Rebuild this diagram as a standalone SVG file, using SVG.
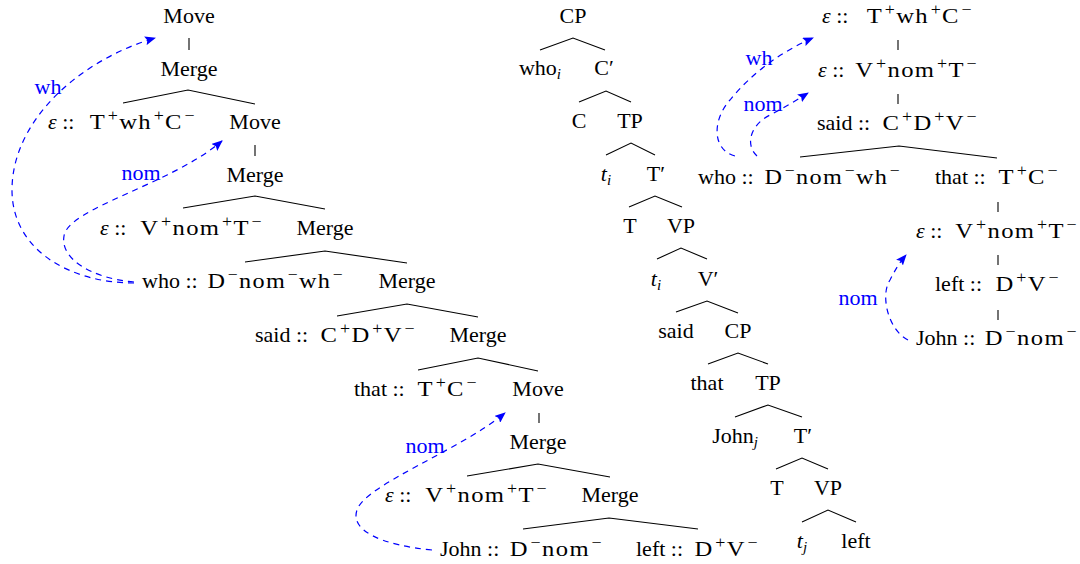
<svg xmlns="http://www.w3.org/2000/svg" width="1080" height="564" viewBox="0 0 1080 564">
<defs>
<style>
text{font-family:"Liberation Serif","DejaVu Serif",serif;font-size:22px;fill:#000;text-anchor:middle}
text.p{text-anchor:start}
text.f{text-anchor:end;letter-spacing:1.2px}
.s{font-size:16px}
.sub{font-size:15px;font-style:italic}
.i{font-style:italic}
.lbl{fill:#0000ff}
.e{stroke:#000;stroke-width:1.1;fill:none}
.mv{stroke:#0000ff;stroke-width:1.2;fill:none;stroke-dasharray:6 5;marker-end:url(#ah)}
</style>
<marker id="ah" markerUnits="userSpaceOnUse" markerWidth="11" markerHeight="9" refX="10" refY="4.5" orient="auto">
<path d="M0,0 L11,4.5 L0,9 L2,4.5 z" fill="#0000ff"/>
</marker>
</defs>
<rect width="1080" height="564" fill="#fff"/>

<g id="connectors">
<path class="e" d="M189,38 V50"/>
<path class="e" d="M123,103 L188,90 L255,104"/>
<path class="e" d="M255,145 V156"/>
<path class="e" d="M183,208 L255,196 L325,209"/>
<path class="e" d="M245,262 L325,251 L407,263"/>
<path class="e" d="M337,316 L407,304 L478,317"/>
<path class="e" d="M418,370 L478,358 L538,371"/>
<path class="e" d="M539,413 V423"/>
<path class="e" d="M467,476 L538,464 L610,477"/>
<path class="e" d="M523,529 L609,518 L698,529"/>
<path class="e" d="M540,50 L573,38 L605,50"/>
<path class="e" d="M579,102 L606,91 L631,102"/>
<path class="e" d="M606,155 L631,143 L655,155"/>
<path class="e" d="M629,207 L655,196 L682,207"/>
<path class="e" d="M657,259 L681,248 L707,259"/>
<path class="e" d="M676,312 L707,301 L738,313"/>
<path class="e" d="M708,364 L738,353 L768,364"/>
<path class="e" d="M735,417 L768,405 L802,417"/>
<path class="e" d="M776,469 L802,458 L828,469"/>
<path class="e" d="M802,522 L828,510 L856,522"/>
<path class="e" d="M898,40 V50"/>
<path class="e" d="M898,94 V104"/>
<path class="e" d="M800,157 L899,146 L997,158"/>
<path class="e" d="M998,202 V212"/>
<path class="e" d="M998,255 V265"/>
<path class="e" d="M998,310 V320"/>
<path class="mv" d="M134,283 C70,283 12,250 12,190 C12,120 80,60 155,38"/>
<path class="mv" d="M134,282 C90,278 60,258 64,236 C68,208 170,185 222,141"/>
<path class="mv" d="M432,550 C380,545 350,530 357,510 C365,485 460,450 505,413"/>
<path class="mv" d="M735,156 C712,150 712,120 730,100 C750,75 780,52 813,38"/>
<path class="mv" d="M757,156 C745,145 750,125 770,115 C785,107 797,100 808,93"/>
<path class="mv" d="M908,340 C888,330 880,295 890,280 C895,270 900,262 906,255"/>
<text class="lbl" x="48" y="94">wh</text>
<text class="lbl" x="141" y="180">nom</text>
<text class="lbl" x="425" y="453">nom</text>
<text class="lbl" x="759" y="65">wh</text>
<text class="lbl" x="763" y="111">nom</text>
<text class="lbl" x="858" y="305">nom</text>
</g>

<g id="L1"><text x="189" y="23">Move</text></g>
<g id="L2"><text x="189" y="76">Merge</text></g>
<g id="L3"><text class="p" x="48" y="129"><tspan class="i">ε</tspan> ::</text><text class="f" transform="translate(196,129) scale(1.12,1)">T<tspan class="s" dx="1.5" dy="-8">+</tspan><tspan dy="8">wh</tspan><tspan class="s" dx="1.5" dy="-8">+</tspan><tspan dy="8">C</tspan><tspan class="s" dx="1.5" dy="-8">−</tspan></text></g>
<g id="L4"><text x="255" y="129">Move</text></g>
<g id="L5"><text x="255" y="182">Merge</text></g>
<g id="L6"><text class="p" x="100" y="235"><tspan class="i">ε</tspan> ::</text><text class="f" transform="translate(263,235) scale(1.12,1)">V<tspan class="s" dx="1.5" dy="-8">+</tspan><tspan dy="8">nom</tspan><tspan class="s" dx="1.5" dy="-8">+</tspan><tspan dy="8">T</tspan><tspan class="s" dx="1.5" dy="-8">−</tspan></text></g>
<g id="L7"><text x="325" y="235">Merge</text></g>
<g id="L8"><text class="p" x="142" y="288">who ::</text><text class="f" transform="translate(344,288) scale(1.1,1)">D<tspan class="s" dx="1.5" dy="-8">−</tspan><tspan dy="8">nom</tspan><tspan class="s" dx="1.5" dy="-8">−</tspan><tspan dy="8">wh</tspan><tspan class="s" dx="1.5" dy="-8">−</tspan></text></g>
<g id="L9"><text x="407" y="288">Merge</text></g>
<g id="L10"><text class="p" x="255" y="342">said ::</text><text class="f" transform="translate(416,342) scale(1.12,1)">C<tspan class="s" dx="1.5" dy="-8">+</tspan><tspan dy="8">D</tspan><tspan class="s" dx="1.5" dy="-8">+</tspan><tspan dy="8">V</tspan><tspan class="s" dx="1.5" dy="-8">−</tspan></text></g>
<g id="L11"><text x="478" y="342">Merge</text></g>
<g id="L12"><text class="p" x="354" y="396">that ::</text><text class="f" transform="translate(478,396) scale(1.12,1)">T<tspan class="s" dx="1.5" dy="-8">+</tspan><tspan dy="8">C</tspan><tspan class="s" dx="1.5" dy="-8">−</tspan></text></g>
<g id="L13"><text x="538" y="396">Move</text></g>
<g id="L14"><text x="538" y="449">Merge</text></g>
<g id="L15"><text class="p" x="385" y="502"><tspan class="i">ε</tspan> ::</text><text class="f" transform="translate(548,502) scale(1.12,1)">V<tspan class="s" dx="1.5" dy="-8">+</tspan><tspan dy="8">nom</tspan><tspan class="s" dx="1.5" dy="-8">+</tspan><tspan dy="8">T</tspan><tspan class="s" dx="1.5" dy="-8">−</tspan></text></g>
<g id="L16"><text x="610" y="502">Merge</text></g>
<g id="L17"><text class="p" x="440" y="556">John ::</text><text class="f" transform="translate(603,556) scale(1.12,1)">D<tspan class="s" dx="1.5" dy="-8">−</tspan><tspan dy="8">nom</tspan><tspan class="s" dx="1.5" dy="-8">−</tspan></text></g>
<g id="L18"><text class="p" x="636" y="556">left ::</text><text class="f" transform="translate(759,556) scale(1.12,1)">D<tspan class="s" dx="1.5" dy="-8">+</tspan><tspan dy="8">V</tspan><tspan class="s" dx="1.5" dy="-8">−</tspan></text></g>

<g id="M1"><text x="573" y="23">CP</text></g>
<g id="M2"><text x="540" y="75">who<tspan class="sub" dy="4">i</tspan></text></g>
<g id="M3"><text x="604" y="75">C′</text></g>
<g id="M4"><text x="579" y="128">C</text></g>
<g id="M5"><text x="630" y="128">TP</text></g>
<g id="M6"><text x="606" y="181"><tspan class="i">t</tspan><tspan class="sub" dy="4">i</tspan></text></g>
<g id="M7"><text x="656" y="181">T′</text></g>
<g id="M8"><text x="630" y="233">T</text></g>
<g id="M9"><text x="681" y="233">VP</text></g>
<g id="M10"><text x="656" y="286"><tspan class="i">t</tspan><tspan class="sub" dy="4">i</tspan></text></g>
<g id="M11"><text x="708" y="286">V′</text></g>
<g id="M12"><text x="676" y="338">said</text></g>
<g id="M13"><text x="738" y="338">CP</text></g>
<g id="M14"><text x="707" y="390">that</text></g>
<g id="M15"><text x="768" y="390">TP</text></g>
<g id="M16"><text x="735" y="443">John<tspan class="sub" dy="4">j</tspan></text></g>
<g id="M17"><text x="803" y="443">T′</text></g>
<g id="M18"><text x="777" y="495">T</text></g>
<g id="M19"><text x="828" y="495">VP</text></g>
<g id="M20"><text x="802" y="548"><tspan class="i">t</tspan><tspan class="sub" dy="4">j</tspan></text></g>
<g id="M21"><text x="856" y="548">left</text></g>

<g id="R1"><text class="p" x="822" y="23"><tspan class="i">ε</tspan> ::</text><text class="f" transform="translate(973,23) scale(1.12,1)">T<tspan class="s" dx="1.5" dy="-8">+</tspan><tspan dy="8">wh</tspan><tspan class="s" dx="1.5" dy="-8">+</tspan><tspan dy="8">C</tspan><tspan class="s" dx="1.5" dy="-8">−</tspan></text></g>
<g id="R2"><text class="p" x="818" y="77"><tspan class="i">ε</tspan> ::</text><text class="f" transform="translate(978,77) scale(1.12,1)">V<tspan class="s" dx="1.5" dy="-8">+</tspan><tspan dy="8">nom</tspan><tspan class="s" dx="1.5" dy="-8">+</tspan><tspan dy="8">T</tspan><tspan class="s" dx="1.5" dy="-8">−</tspan></text></g>
<g id="R3"><text class="p" x="817" y="130">said ::</text><text class="f" transform="translate(978,130) scale(1.12,1)">C<tspan class="s" dx="1.5" dy="-8">+</tspan><tspan dy="8">D</tspan><tspan class="s" dx="1.5" dy="-8">+</tspan><tspan dy="8">V</tspan><tspan class="s" dx="1.5" dy="-8">−</tspan></text></g>
<g id="R4"><text class="p" x="698" y="184">who ::</text><text class="f" transform="translate(901,184) scale(1.1,1)">D<tspan class="s" dx="1.5" dy="-8">−</tspan><tspan dy="8">nom</tspan><tspan class="s" dx="1.5" dy="-8">−</tspan><tspan dy="8">wh</tspan><tspan class="s" dx="1.5" dy="-8">−</tspan></text></g>
<g id="R5"><text class="p" x="935" y="184">that ::</text><text class="f" transform="translate(1059,184) scale(1.12,1)">T<tspan class="s" dx="1.5" dy="-8">+</tspan><tspan dy="8">C</tspan><tspan class="s" dx="1.5" dy="-8">−</tspan></text></g>
<g id="R6"><text class="p" x="916" y="238"><tspan class="i">ε</tspan> ::</text><text class="f" transform="translate(1078,238) scale(1.12,1)">V<tspan class="s" dx="1.5" dy="-8">+</tspan><tspan dy="8">nom</tspan><tspan class="s" dx="1.5" dy="-8">+</tspan><tspan dy="8">T</tspan><tspan class="s" dx="1.5" dy="-8">−</tspan></text></g>
<g id="R7"><text class="p" x="935" y="291">left ::</text><text class="f" transform="translate(1060,291) scale(1.12,1)">D<tspan class="s" dx="1.5" dy="-8">+</tspan><tspan dy="8">V</tspan><tspan class="s" dx="1.5" dy="-8">−</tspan></text></g>
<g id="R8"><text class="p" x="916" y="345">John ::</text><text class="f" transform="translate(1078,345) scale(1.12,1)">D<tspan class="s" dx="1.5" dy="-8">−</tspan><tspan dy="8">nom</tspan><tspan class="s" dx="1.5" dy="-8">−</tspan></text></g>
</svg>
